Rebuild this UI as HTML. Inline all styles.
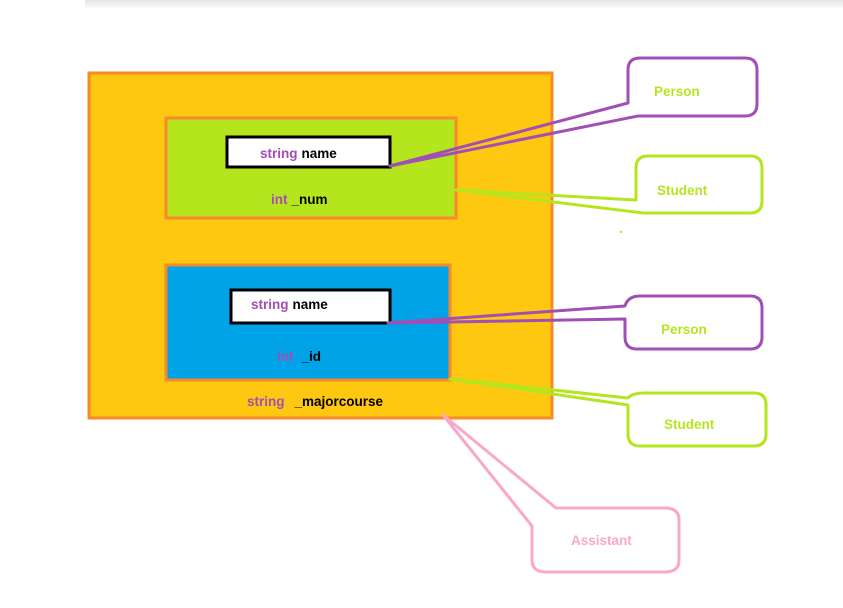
<!DOCTYPE html>
<html><head><meta charset="utf-8"><style>
html,body{margin:0;padding:0;background:#fff;width:843px;height:608px;overflow:hidden}
svg{display:block}
text{font-family:"Liberation Sans",sans-serif;font-weight:bold;font-size:13.5px}
</style></head><body>
<svg width="843" height="608" viewBox="0 0 843 608" xmlns="http://www.w3.org/2000/svg">
<defs><linearGradient id="sh" x1="0" y1="0" x2="0" y2="1"><stop offset="0" stop-color="#e4e4e4"/><stop offset="1" stop-color="#fff"/></linearGradient></defs>
<rect x="85" y="0" width="758" height="9" fill="url(#sh)"/>
<rect x="89" y="73" width="463" height="345" fill="#fdc80f" stroke="#f98a2a" stroke-width="3"/>
<rect x="166" y="118" width="290" height="100" fill="#b5e61d" stroke="#f98a2a" stroke-width="3"/>
<rect x="227" y="137" width="163" height="30" fill="#fff" stroke="#000" stroke-width="3"/>
<rect x="166" y="265" width="284" height="115" fill="#00a2e8" stroke="#f98a2a" stroke-width="3"/>
<rect x="231" y="290" width="159" height="33" fill="#fff" stroke="#000" stroke-width="3"/>
<text x="260" y="158"><tspan fill="#a24fb5">string</tspan><tspan fill="#000" dx="4">name</tspan></text>
<text x="271" y="204"><tspan fill="#a24fb5">int</tspan><tspan fill="#000" dx="4">_num</tspan></text>
<text x="251" y="309"><tspan fill="#a24fb5">string</tspan><tspan fill="#000" dx="4">name</tspan></text>
<text x="277" y="361"><tspan fill="#a24fb5">int</tspan><tspan fill="#000" dx="8">_id</tspan></text>
<text x="247" y="406"><tspan fill="#a24fb5">string</tspan><tspan fill="#000" dx="10">_majorcourse</tspan></text>
<g fill="none" stroke-width="3" stroke-linejoin="round">
<path stroke="#a24fb5" d="M390,166 L628,103 L628,70 Q628,58 640,58 L745,58 Q757,58 757,70 L757,104 Q757,116 745,116 L638,116 Z"/>
<path stroke="#b5e61d" d="M456,190 L636,200 L636,168 Q636,156 648,156 L750,156 Q762,156 762,168 L762,201 Q762,213 750,213 L643,213 Z"/>
<path stroke="#a24fb5" d="M388,323 L625,306 Q628,296 640,296 L750,296 Q762,296 762,308 L762,337 Q762,349 750,349 L637,349 Q625,349 625,337 L625,319 Z"/>
<path stroke="#b5e61d" d="M450,379 L628,398 Q632,393 645,393 L754,393 Q766,393 766,405 L766,434 Q766,446 754,446 L640,446 Q628,446 628,434 L628,405 Z"/>
<path stroke="#f9a8c8" d="M443,415 L556,508 L665,508 Q679,508 679,520 L679,560 Q679,572 665,572 L546,572 Q532,572 532,560 L532,526 Z"/>
</g>
<text x="654" y="96" fill="#b5e61d">Person</text>
<text x="657" y="195" fill="#b5e61d">Student</text>
<text x="661" y="334" fill="#b5e61d">Person</text>
<text x="664" y="429" fill="#b5e61d">Student</text>
<text x="571" y="545" fill="#f9a8c8">Assistant</text>
<circle cx="621" cy="232" r="1.2" fill="#b5e61d"/>
</svg>
</body></html>
